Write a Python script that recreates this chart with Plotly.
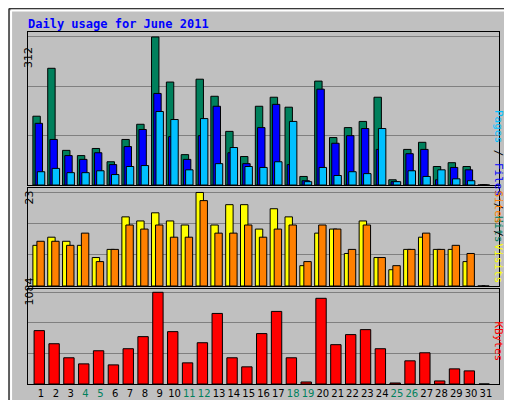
import plotly.graph_objects as go

days = list(range(1, 32))
hits = [145, 246, 73, 62, 77, 49, 96, 128, 312, 217, 64, 223, 187, 113, 60, 166,
        185, 164, 18, 219, 100, 121, 134, 185, 11, 75, 90, 39, 47, 39, 0]
files = [130, 96, 62, 54, 68, 43, 81, 117, 193, 102, 54, 104, 166, 68, 45, 121,
         170, 43, 9, 202, 88, 104, 119, 75, 7, 66, 75, 11, 37, 32, 0]
pages = [28, 35, 26, 26, 30, 22, 39, 41, 155, 138, 32, 140, 45, 79, 39, 37,
         49, 134, 7, 37, 20, 28, 24, 119, 7, 30, 18, 32, 13, 9, 0]
visits = [10, 12, 11, 10, 7, 9, 17, 16, 18, 16, 15, 23, 15, 20, 20, 14,
          19, 17, 5, 13, 14, 8, 16, 7, 4, 9, 12, 9, 9, 6, 0]
sites = [11, 11, 10, 13, 6, 9, 15, 14, 15, 12, 12, 21, 13, 13, 15, 12,
         14, 15, 6, 15, 14, 9, 15, 7, 5, 9, 13, 9, 10, 8, 0]
kbytes = [631, 476, 310, 238, 393, 226, 417, 560, 1084, 619, 250, 488, 834, 310, 203, 596,
          858, 310, 24, 1013, 465, 584, 643, 417, 12, 274, 369, 36, 179, 155, 0]
weekends = [4, 5, 11, 12, 18, 19, 25, 26]

line = dict(color="black", width=1)
fig = go.Figure()
fig.add_bar(x=days, y=hits, offset=-0.55, width=0.5, marker=dict(color="#00805C", line=line), xaxis="x", yaxis="y")
fig.add_bar(x=days, y=files, offset=-0.4, width=0.5, marker=dict(color="#0000FF", line=line), xaxis="x", yaxis="y")
fig.add_bar(x=days, y=pages, offset=-0.25, width=0.5, marker=dict(color="#00C0FF", line=line), xaxis="x", yaxis="y")
fig.add_bar(x=days, y=visits, offset=-0.55, width=0.5, marker=dict(color="#FFFF00", line=line), xaxis="x2", yaxis="y2")
fig.add_bar(x=days, y=sites, offset=-0.28, width=0.5, marker=dict(color="#FF8000", line=line), xaxis="x2", yaxis="y2")
fig.add_bar(x=days, y=kbytes, offset=-0.47, width=0.7, marker=dict(color="#FF0000", line=line), xaxis="x3", yaxis="y3")

ticktext = ["<span style='color:#00805C'>%d</span>" % d if d in weekends else str(d) for d in days]
xr = [0.12, 31.88]
xdom = [20 / 512, 491 / 512]
ax = dict(range=xr, domain=xdom, showticklabels=False, ticks="", showgrid=False, zeroline=False,
          showline=True, linecolor="black", mirror=True)
yax = dict(showticklabels=False, ticks="", gridcolor="#808080", zeroline=False,
           showline=True, linecolor="black", mirror=True)

fig.update_layout(
    width=512, height=400, margin=dict(l=0, r=0, t=0, b=0),
    paper_bgcolor="#C0C0C0", plot_bgcolor="#C0C0C0", showlegend=False, barmode="overlay",
    font=dict(family="DejaVu Sans Mono", size=11, color="black"),
    xaxis=dict(ax, anchor="y"),
    xaxis2=dict(ax, anchor="y2"),
    xaxis3=dict(ax, anchor="y3", showticklabels=True, tickvals=days, ticktext=ticktext,
                tickangle=0, tickfont=dict(family="DejaVu Sans", size=10)),
    yaxis=dict(yax, domain=[1 - 177 / 400, 1 - 24 / 400], range=[0, 322.5], dtick=104),
    yaxis2=dict(yax, domain=[1 - 278 / 400, 1 - 180 / 400], range=[0, 24.1], dtick=23 / 3),
    yaxis3=dict(yax, domain=[1 - 376 / 400, 1 - 281 / 400], range=[0, 1123], dtick=1084 / 3),
)

fig.add_annotation(text="<b>Daily usage for June 2011</b>", x=18 / 512, y=1 - 16 / 400,
                   xref="paper", yref="paper", xanchor="left", yanchor="middle", showarrow=False,
                   font=dict(color="#0000FF", size=12, family="DejaVu Sans Mono"))
for lbl, ypx in [("312", 37), ("23", 190), ("1084", 300)]:
    fig.add_annotation(text=lbl, x=12 / 512, y=1 - ypx / 400, xref="paper", yref="paper",
                       textangle=-90, showarrow=False, font=dict(size=11, family="DejaVu Sans"))
rlabels = [
    ("<span style='color:#00C0FF'>Pages</span> / <span style='color:#0000FF'>Files</span> / <span style='color:#00805C'>Hits</span>", 100),
    ("<span style='color:#FF8000'>Sites</span> / <span style='color:#FFFF00'>Visits</span>", 229),
    ("<span style='color:#FF0000'>KBytes</span>", 355),
]
for txt, ypx in rlabels:
    fig.add_annotation(text=txt, x=499 / 512, y=1 - ypx / 400, xref="paper", yref="paper",
                       textangle=90, showarrow=False, font=dict(size=11, family="DejaVu Sans Mono"))

# bevelled frame
fig.add_shape(type="rect", xref="paper", yref="paper", x0=0.002, y0=0.002, x1=0.998, y1=0.998,
              line=dict(color="black", width=1))
fig.add_shape(type="line", xref="paper", yref="paper", x0=0.006, y0=0.006, x1=0.006, y1=0.994,
              line=dict(color="white", width=2))
fig.add_shape(type="line", xref="paper", yref="paper", x0=0.006, y0=0.994, x1=0.994, y1=0.994,
              line=dict(color="white", width=2))
fig.add_shape(type="line", xref="paper", yref="paper", x0=0.994, y0=0.006, x1=0.994, y1=0.994,
              line=dict(color="#808080", width=2))
fig.add_shape(type="line", xref="paper", yref="paper", x0=0.006, y0=0.006, x1=0.994, y1=0.006,
              line=dict(color="#808080", width=2))

fig.write_html("out.html")
